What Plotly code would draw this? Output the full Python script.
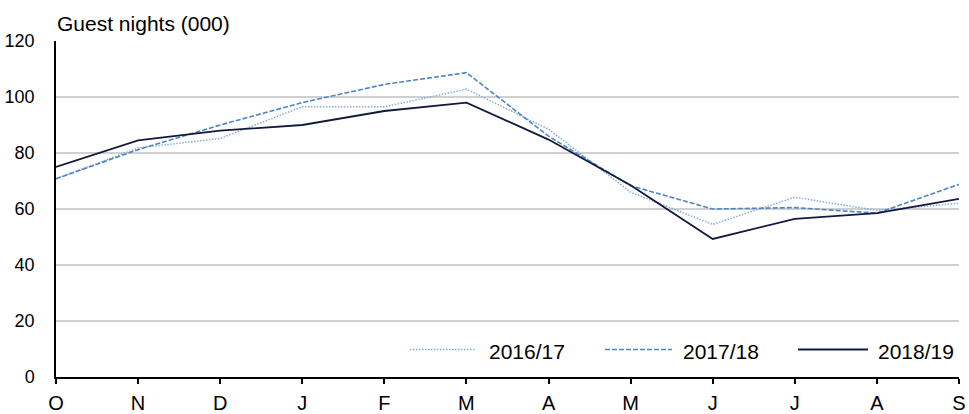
import plotly.graph_objects as go

months = ["O", "N", "D", "J", "F", "M", "A", "M", "J", "J", "A", "S"]
series_names = ["2016/17", "2017/18", "2018/19"]
v_2016_17 = [70.8, 81.8, 85.2, 96.5, 96.5, 102.8, 88.5, 66.0, 54.5, 64.2, 59.5, 62.0]
v_2017_18 = [70.8, 81.2, 90.0, 98.0, 104.5, 108.7, 86.0, 68.3, 60.0, 60.5, 58.5, 68.8]
v_2018_19 = [75.0, 84.5, 88.0, 90.0, 95.0, 98.0, 84.8, 68.5, 49.3, 56.5, 58.5, 63.6]
y_ticks = [0, 20, 40, 60, 80, 100, 120]

FONT = "Liberation Sans, Arial, sans-serif"
W, H = 969, 414
L, R, T, B = 56, 10, 41, 37
PW, PH = W - L - R, H - T - B

styles = [
    dict(color="#86acdc", width=1.5, dash="1.5px,1.5px"),
    dict(color="#4f84c4", width=1.6, dash="5px,2px"),
    dict(color="#141a3c", width=1.8, dash="solid"),
]
values = [v_2016_17, v_2017_18, v_2018_19]
x_idx = list(range(len(months)))

fig = go.Figure()
for name, vals, st in zip(series_names, values, styles):
    fig.add_trace(go.Scatter(x=x_idx, y=vals, mode="lines", name=name,
                             line=st, showlegend=False))

def px(xp):
    return (xp - L) / PW

def py(yp):
    return (H - B - yp) / PH

# custom legend (long line samples)
leg = [(410, 476, 487), (605, 672, 681), (798, 868, 876)]
ly = 349.5
for (x0, x1, tx), name, st in zip(leg, series_names, styles):
    fig.add_shape(type="line", xref="paper", yref="paper",
                  x0=px(x0), x1=px(x1), y0=py(ly), y1=py(ly), line=st)
    fig.add_annotation(xref="paper", yref="paper", x=px(tx), y=py(ly + 1.5),
                       text=name, showarrow=False, xanchor="left",
                       yanchor="middle", font=dict(family=FONT, size=21, color="#000"))

fig.add_annotation(xref="paper", yref="paper", x=px(55), y=py(24),
                   text="Guest nights (000)", showarrow=False, xanchor="left",
                   yanchor="middle", font=dict(family=FONT, size=21, color="#000"))

fig.update_layout(
    width=W, height=H,
    margin=dict(l=L, r=R, t=T, b=B, pad=0, autoexpand=False),
    paper_bgcolor="white", plot_bgcolor="white",
    font=dict(family=FONT, color="#000"),
)
fig.update_xaxes(
    range=[0, len(months) - 1], tickvals=x_idx, ticktext=months, automargin=False,
    showgrid=False, zeroline=False, showline=True, linecolor="#000", linewidth=1.5,
    ticks="outside", ticklen=5, tickcolor="#000", tickwidth=1.5,
    tickfont=dict(family=FONT, size=20, color="#000"), ticklabelstandoff=2,
)
fig.update_yaxes(
    range=[0, 120], tickvals=y_ticks, showgrid=True, gridcolor="#d0d0d0", gridwidth=1.5,
    zeroline=False, showline=True, linecolor="#000", linewidth=1.5, automargin=False,
    ticks="", tickfont=dict(family=FONT, size=18, color="#000"), ticklabelstandoff=16,
)
fig.write_html("out.html", config={"displayModeBar": False},
               post_script="document.body.style.margin='0';")
